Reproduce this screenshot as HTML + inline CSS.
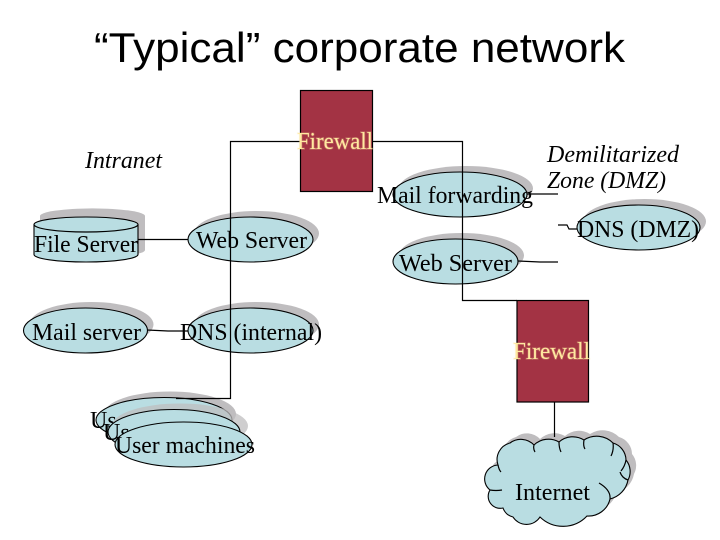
<!DOCTYPE html>
<html><head><meta charset="utf-8"><style>
html,body{margin:0;padding:0;background:#fff}
svg{display:block}
text{font-family:"Liberation Serif",serif;font-size:24px;fill:#000}
.i{font-style:italic}
.f{fill:#FFE9A0;stroke:#FFE9A0;stroke-opacity:.25;stroke-width:1.500px;paint-order:stroke}
.s{fill:#BFBDBF;stroke:none}
.b{fill:#B9DDE2;stroke:#000;stroke-width:1.1}
.l{fill:none;stroke:#000;stroke-width:1.2}
</style></head><body>
<svg width="720" height="540" viewBox="0 0 720 540" xmlns="http://www.w3.org/2000/svg">
<text x="94" y="62" textLength="531" lengthAdjust="spacingAndGlyphs" style="font-family:'Liberation Sans',sans-serif;font-size:42px">“Typical” corporate network</text>

<!-- file server cylinder -->
<path class="s" d="M40 216 A52 7.500 0 0 1 145 216 V250 A52 7.500 0 0 1 40 250 Z"/>
<path class="b" d="M34 224.500 A52 7.500 0 0 1 138 224.500 V254.500 A52 7.500 0 0 1 34 254.500 Z"/>
<path class="l" d="M34 224.500 A52 7.500 0 0 0 138 224.500"/>

<ellipse class="s" cx="256.500" cy="233.500" rx="62.500" ry="22.500"/>
<ellipse class="b" cx="250.500" cy="239.500" rx="62.500" ry="22.500"/>
<ellipse class="s" cx="91.500" cy="324.500" rx="62" ry="22.500"/>
<ellipse class="b" cx="85.500" cy="330.500" rx="62" ry="22.500"/>
<ellipse class="s" cx="256.500" cy="324.500" rx="62.500" ry="22.500"/>
<ellipse class="b" cx="250.500" cy="330.500" rx="62.500" ry="22.500"/>

<ellipse class="s" cx="466" cy="188.500" rx="67" ry="22.500"/>
<ellipse class="b" cx="460" cy="194.500" rx="67" ry="22.500"/>
<ellipse class="s" cx="461.500" cy="255.500" rx="62.500" ry="22.500"/>
<ellipse class="b" cx="455.500" cy="261.500" rx="62.500" ry="22.500"/>
<ellipse class="s" cx="644.500" cy="221.500" rx="61.500" ry="22.500"/>
<ellipse class="b" cx="638.500" cy="227.500" rx="61.500" ry="22.500"/>

<!-- user machines -->
<ellipse class="s" cx="170" cy="414" rx="66" ry="22.500"/>
<ellipse class="b" cx="164" cy="420" rx="68" ry="22.500"/>
<text x="90" y="428">Us</text>
<ellipse class="s" cx="180" cy="426" rx="68" ry="22.500" opacity=".75"/>
<ellipse class="b" cx="174" cy="432" rx="66" ry="22.500"/>
<text x="103" y="440">Us</text>
<ellipse class="b" cx="183.500" cy="444.500" rx="68.500" ry="22.500"/>

<!-- cloud -->
<path class="s" transform="translate(6,-6)" d="M498 465 A17 17 0 0 1 510 443 A18 18 0 0 1 534 445 A21 21 0 0 1 559 442 A21 21 0 0 1 584 440 A23 23 0 0 1 613 443 A18 18 0 0 1 626 460 A18 18 0 0 1 628 480 A24 24 0 0 1 610 499 A22 22 0 0 1 587 516 A33 33 0 0 1 540 517 A16 16 0 0 1 513 517 A14 14 0 0 1 503 508 A12 12 0 0 1 490 490 A14 14 0 0 1 498 465 Z"/>
<path class="b" d="M498 465 A17 17 0 0 1 510 443 A18 18 0 0 1 534 445 A21 21 0 0 1 559 442 A21 21 0 0 1 584 440 A23 23 0 0 1 613 443 A18 18 0 0 1 626 460 A18 18 0 0 1 628 480 A24 24 0 0 1 610 499 A22 22 0 0 1 587 516 A33 33 0 0 1 540 517 A16 16 0 0 1 513 517 A14 14 0 0 1 503 508 A12 12 0 0 1 490 490 A14 14 0 0 1 498 465 Z"/>
<path class="l" d="M498 465 Q499 470 501 472 M534 445 Q533 449 535 452 M559 442 Q559 448 561 452 M584 440 Q583 446 585 449 M613 443 Q614 450 611 456 M626 460 Q625 466 621 471 M628 480 Q622 478 620 472 M610 499 Q611 490 599 483 M490 490 Q496 491 502 490"/>

<!-- firewalls -->
<rect x="300.500" y="90.500" width="72" height="101" fill="#A33344" stroke="#000" stroke-width="1.200"/>
<rect x="517" y="300.500" width="71.500" height="101.500" fill="#A33344" stroke="#000" stroke-width="1.200"/>

<!-- connectors -->
<path class="l" d="M300 141.500 H230.500 V398.500 H176"/>
<path class="l" d="M372 141.500 H462.500 V300.500 H517"/>
<path class="l" d="M554.500 402 V437"/>
<path class="l" d="M138 239.500 H188"/>
<path class="l" d="M147 330 L168 331 H188"/>
<path class="l" d="M527 194 H558"/>
<path class="l" d="M558 225 H567 L569 229 H577"/>
<path class="l" d="M518 261 L540 262 H558"/>

<!-- labels -->
<text class="i" x="85" y="168" textLength="77" lengthAdjust="spacingAndGlyphs">Intranet</text>
<text x="34" y="252" textLength="104" lengthAdjust="spacingAndGlyphs">File Server</text>
<text x="196" y="248" textLength="111" lengthAdjust="spacingAndGlyphs">Web Server</text>
<text x="32" y="340" textLength="109" lengthAdjust="spacingAndGlyphs">Mail server</text>
<text x="180" y="340" textLength="142" lengthAdjust="spacingAndGlyphs">DNS (internal)</text>
<text x="115" y="453" textLength="140" lengthAdjust="spacingAndGlyphs">User machines</text>
<text x="377" y="203" textLength="156" lengthAdjust="spacingAndGlyphs">Mail forwarding</text>
<text x="399" y="271" textLength="113" lengthAdjust="spacingAndGlyphs">Web Server</text>
<text x="577" y="237" textLength="122" lengthAdjust="spacingAndGlyphs">DNS (DMZ)</text>
<text class="i" x="547" y="162" textLength="132" lengthAdjust="spacingAndGlyphs">Demilitarized</text>
<text class="i" x="547" y="188" textLength="119" lengthAdjust="spacingAndGlyphs">Zone (DMZ)</text>
<text class="f" x="297" y="149" textLength="76" lengthAdjust="spacingAndGlyphs">Firewall</text>
<text class="f" x="513" y="359" textLength="77" lengthAdjust="spacingAndGlyphs">Firewall</text>
<text x="515" y="500" textLength="75" lengthAdjust="spacingAndGlyphs">Internet</text>
</svg>
</body></html>
